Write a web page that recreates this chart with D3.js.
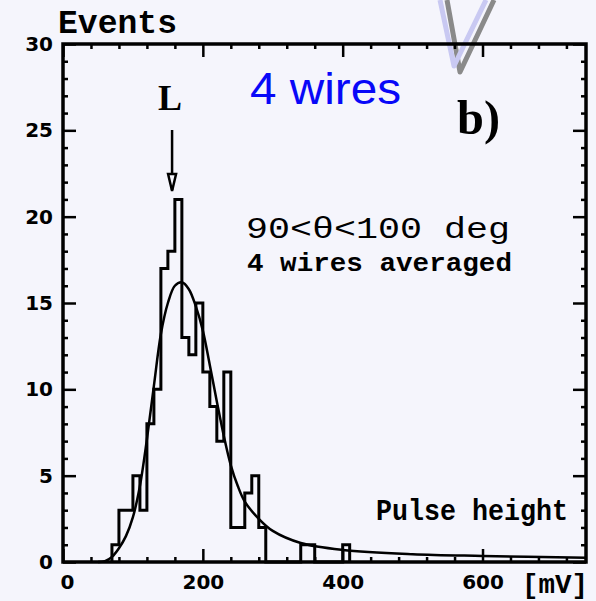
<!DOCTYPE html>
<html>
<head>
<meta charset="utf-8">
<script src="https://cdn.jsdelivr.net/npm/d3@7"></script>
<style>
  body { margin: 0; background: #f5f5fc; }
  svg { display: block; }
  .axis path.domain { display: none; }
  .axis line { stroke: #000; stroke-width: 2.5; }
  .axis text { font-family: "DejaVu Sans", sans-serif; font-weight: bold; font-size: 20px; fill: #000; }
</style>
</head>
<body>
<div id="chart"></div>
<script>
// histogram bins (lower edge, mV) and counts, bin width 10 mV
const binLow = [70, 80, 90, 100, 110, 120, 130, 140, 150, 160, 170, 180, 190, 200, 210, 220, 230, 240, 250, 260, 270, 280, 290, 300, 310, 320, 330, 340, 350, 360, 370, 380, 390, 400];
const counts = [1, 3, 3, 5, 3, 8, 10, 17, 18, 21, 13, 12, 15, 11, 9, 7, 11, 2, 2, 4, 5, 2, 0, 0, 0, 0, 0, 1, 1, 0, 0, 0, 0, 1];
const binWidth = 10;

// fitted curve
const fitX = [50, 60, 70, 80, 90, 100, 110, 120, 130, 140, 150, 160, 170, 180, 190, 200, 210, 220, 230, 240, 250, 260, 280, 300, 340, 400, 500, 600, 748];
const fitY = [0, 0.05, 0.3, 0.8, 1.5, 2.6, 4.4, 7.1, 10.2, 13.2, 15.0, 16.0, 16.2, 15.8, 14.8, 13.4, 11.4, 9.3, 7.3, 5.6, 4.4, 3.5, 2.5, 1.8, 1.1, 0.7, 0.45, 0.35, 0.25];

const xMajor = [0, 200, 400, 600];
const xMinor = [40, 80, 120, 160, 240, 280, 320, 360, 440, 480, 520, 560, 640, 680, 720];
const yMajor = [0, 5, 10, 15, 20, 25, 30];
const yMinor = [1, 2, 3, 4, 6, 7, 8, 9, 11, 12, 13, 14, 16, 17, 18, 19, 21, 22, 23, 24, 26, 27, 28, 29];

const lPeak = 156; // position of "L" arrow, mV

const W = 596, H = 601;
const svg = d3.select('#chart').append('svg')
  .attr('width', W)
  .attr('height', H);

svg.append('rect').attr('width', W).attr('height', H).attr('fill', '#f5f5fc');

const x = d3.scaleLinear().domain([0, 748]).range([63, 586]);
const y = d3.scaleLinear().domain([0, 30]).range([562, 44]);

// decorative V stroke at top (from the slide)
svg.append('path')
  .attr('d', 'M447,0 L460,72 L494,0')
  .attr('fill', 'none').attr('stroke', '#8a8a8a').attr('stroke-width', 5)
  .attr('stroke-linejoin', 'round');
svg.append('path')
  .attr('d', 'M440,0 L454,66 L486,0')
  .attr('fill', 'none').attr('stroke', '#c9c9f2').attr('stroke-width', 5)
  .attr('stroke-linejoin', 'round');

// axes (ticks point inward)
svg.append('g').attr('class', 'axis')
  .attr('transform', `translate(${x.range()[0]},0)`)
  .call(d3.axisLeft(y).tickValues(yMajor).tickSize(-13).tickPadding(10).tickFormat(d3.format('d')));
svg.append('g').attr('class', 'axis')
  .attr('transform', `translate(${x.range()[0]},0)`)
  .call(d3.axisLeft(y).tickValues(yMinor).tickSize(-5).tickFormat(''));
svg.append('g').attr('class', 'axis')
  .attr('transform', `translate(${x.range()[1]},0)`)
  .call(d3.axisRight(y).tickValues(yMajor).tickSize(-13).tickFormat(''));
svg.append('g').attr('class', 'axis')
  .attr('transform', `translate(${x.range()[1]},0)`)
  .call(d3.axisRight(y).tickValues(yMinor).tickSize(-5).tickFormat(''));

svg.append('g').attr('class', 'axis')
  .attr('transform', `translate(0,${y(0)})`)
  .call(d3.axisBottom(x).tickValues(xMajor).tickSize(-13).tickPadding(13).tickFormat(d3.format('d')));
svg.append('g').attr('class', 'axis')
  .attr('transform', `translate(0,${y(0)})`)
  .call(d3.axisBottom(x).tickValues(xMinor).tickSize(-5).tickFormat(''));
svg.append('g').attr('class', 'axis')
  .attr('transform', `translate(0,${y(30)})`)
  .call(d3.axisTop(x).tickValues(xMajor).tickSize(-13).tickFormat(''));
svg.append('g').attr('class', 'axis')
  .attr('transform', `translate(0,${y(30)})`)
  .call(d3.axisTop(x).tickValues(xMinor).tickSize(-5).tickFormat(''));

// shift the "0" label a little right like the original
svg.selectAll('.axis text').filter(function() { return this.textContent === '0' && this.getAttribute('dy') === '0.71em'; })
  .attr('x', 4);

// frame
svg.append('rect')
  .attr('x', x.range()[0]).attr('y', y(30))
  .attr('width', x.range()[1] - x.range()[0])
  .attr('height', y(0) - y(30))
  .attr('fill', 'none').attr('stroke', '#000').attr('stroke-width', 3.5);

// histogram outline
const stepPts = [[binLow[0], 0]];
binLow.forEach((lo, i) => {
  stepPts.push([lo, counts[i]]);
  stepPts.push([lo + binWidth, counts[i]]);
});
stepPts.push([binLow[binLow.length - 1] + binWidth, 0]);

svg.append('path')
  .datum(stepPts)
  .attr('fill', 'none')
  .attr('stroke', '#000')
  .attr('stroke-width', 3)
  .attr('stroke-linejoin', 'miter')
  .attr('d', d3.line().x(d => x(d[0])).y(d => y(d[1])));

// fit curve
svg.append('path')
  .datum(fitX.map((v, i) => [v, fitY[i]]))
  .attr('fill', 'none')
  .attr('stroke', '#000')
  .attr('stroke-width', 2.5)
  .attr('d', d3.line().x(d => x(d[0])).y(d => y(d[1])).curve(d3.curveCatmullRom));

// L marker with arrow
const ax = x(lPeak);
svg.append('line')
  .attr('x1', ax).attr('x2', ax)
  .attr('y1', 130).attr('y2', 190)
  .attr('stroke', '#000').attr('stroke-width', 2.5);
svg.append('path')
  .attr('d', `M${ax - 4},174 L${ax},191 L${ax + 4},174 Z`)
  .attr('fill', '#f5f5fc').attr('stroke', '#000').attr('stroke-width', 2.5);
svg.append('text')
  .attr('x', ax - 2).attr('y', 110)
  .attr('text-anchor', 'middle')
  .style('font-family', '"Liberation Serif", serif')
  .style('font-weight', 'bold')
  .style('font-size', '36px')
  .text('L');

// texts
function label(txt, px, py, family, size, weight, len, color) {
  const t = svg.append('text')
    .attr('x', px).attr('y', py)
    .style('font-family', family)
    .style('font-size', size + 'px')
    .style('font-weight', weight)
    .attr('fill', color || '#000')
    .text(txt);
  if (len) t.attr('textLength', len).attr('lengthAdjust', 'spacingAndGlyphs');
  return t;
}

label('Events', 58, 33, '"Liberation Mono", monospace', 34, 'bold', 119);
label('4 wires', 250, 104, '"Liberation Sans", Arial, sans-serif', 45, 'normal', 151, '#0808f8');
label('b)', 457, 134, '"Liberation Serif", serif', 48, 'bold', 43);
label('90<θ<100 deg', 246, 238, '"Liberation Mono", monospace', 30, 'normal', 264);
label('4 wires averaged', 247, 271, '"Liberation Mono", monospace', 25, 'bold', 265);
label('Pulse height', 376, 520, '"Liberation Mono", monospace', 29, 'bold', 192);
label('[mV]', 522, 593, '"Liberation Mono", monospace', 28, 'bold', 66);
</script>
</body>
</html>
